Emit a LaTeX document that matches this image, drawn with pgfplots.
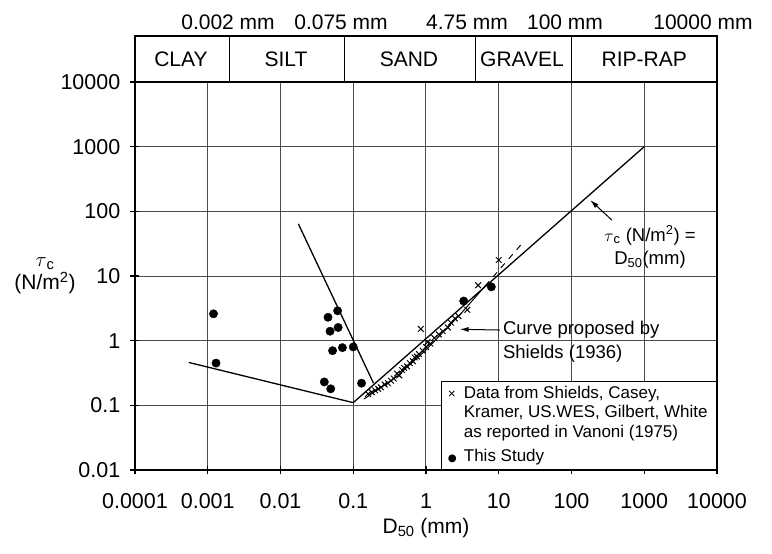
\documentclass[border=0pt]{standalone}
\usepackage{fontspec}
\setmainfont{Liberation Sans}
\newfontfamily\dejavu{DejaVu Sans}
\usepackage{pgfplots}
\pgfplotsset{compat=1.18}
\usetikzlibrary{arrows.meta}
\newcommand\ticksize{\fontsize{21.5bp}{25bp}\selectfont}
\newcommand\labsize{\fontsize{21bp}{23bp}\selectfont}
\newcommand\annsize{\fontsize{18.5bp}{23.5bp}\selectfont}
\newcommand\legsize{\fontsize{17bp}{19.5bp}\selectfont}
\begin{document}
\begin{tikzpicture}
\useasboundingbox (-135bp,-84bp) rectangle (637bp,470bp);
\begin{axis}[
  at={(0,0)}, anchor=south west,
  scale only axis, width=582bp, height=388bp,
  xmode=log, ymode=log,
  xmin=1e-4, xmax=1e4, ymin=0.01, ymax=1e4,
  xtick={1e-4,1e-3,1e-2,1e-1,1,10,100,1000,10000},
  xticklabels={0.0001,0.001,0.01,0.1,1,10,100,1000,10000},
  ytick={0.01,0.1,1,10,100,1000,10000},
  yticklabels={0.01,0.1,1,10,100,1000,10000},
  xminorticks=false, yminorticks=false,
  tick pos=left, tick align=center, major tick length=9bp,
  tick style={black, line width=1.2bp},
  grid=major, major grid style={black!70, line width=1bp},
  axis line style={black, line width=1.5bp},
  /pgf/number format/assume math mode=true,
  ticklabel style={font=\ticksize},
  xticklabel style={anchor=north, inner sep=0pt, yshift=-19bp},
  yticklabel style={anchor=east, inner sep=0pt, xshift=-10bp},
  xlabel={D\textsubscript{50} (mm)},
  every axis x label/.style={at={(rel axis cs:0.5,0)}, anchor=center, yshift=-58bp, font=\labsize},
  ylabel={$\tau$\textsubscript{c}\\(N/m\textsuperscript{2})},
  every axis y label/.style={at={(rel axis cs:0,0.5)}, anchor=center, xshift=-90bp, align=center, font=\labsize},
  clip=false,
]
% boundary lines
\addplot[black, line width=1.3bp] coordinates {(0.00055,0.46) (0.1,0.11)};
\addplot[black, line width=1.3bp] coordinates {(0.0176,64) (0.19,0.22)};
\addplot[black, line width=1.3bp] coordinates {(0.1,0.11) (1000,1000)};
% Shields curve
\addplot[black, line width=1bp] coordinates {(0.14,0.125) (0.4,0.28) (1,0.72) (3,2.6) (6.5,7)};
\addplot[black, line width=1bp, dash pattern=on 6bp off 6bp] coordinates {(6.5,7) (20,30)};

% data from Shields, Casey, Kramer, US.WES, Gilbert, White
\addplot[only marks, mark=x, mark size=4bp, black, line width=1bp] coordinates {
(0.16,0.15) (0.18,0.16) (0.2,0.17) (0.22,0.18) (0.24,0.19) (0.27,0.21)
(0.3,0.22) (0.33,0.24) (0.36,0.26) (0.4,0.31) (0.43,0.29) (0.47,0.35)
(0.5,0.38) (0.55,0.4) (0.6,0.45) (0.66,0.48) (0.7,0.55) (0.75,0.57)
(0.8,0.62) (0.9,0.7) (1.0,0.8) (1.05,0.95) (1.15,0.9) (1.3,1.1)
(1.5,1.25) (1.7,1.4) (2.0,1.6) (2.2,1.9) (2.5,2.2) (2.8,2.4)
(3.7,3.0) (5.2,7.2) (10,17.7) (0.85,1.52)};

% this study
\addplot[only marks, mark=*, mark size=4.2bp, black] coordinates {
(0.0012,2.6) (0.0013,0.45) (0.061,2.9) (0.045,2.3) (0.062,1.6) (0.048,1.4)
(0.052,0.70) (0.071,0.78) (0.1,0.8) (0.040,0.23) (0.049,0.18) (0.13,0.22)
(3.3,4.1) (7.9,6.8)};

% annotations
\node[font=\annsize, align=left, anchor=west, inner sep=0pt] at (axis cs:11.4,0.97) {Curve proposed by\\Shields (1936)};
\draw[-{Latex[length=9bp,width=5bp]}, line width=1bp] (axis cs:10.4,1.46) -- (axis cs:2.9,1.5);
\node[font=\annsize, align=center, inner sep=0pt] at (axis cs:1200,28) {$\tau$\textsubscript{c} (N/m\textsuperscript{2}) =\\D\textsubscript{50}(mm)};
\draw[-{Latex[length=9bp,width=5bp]}, line width=1bp] (axis cs:360,73) -- (axis cs:180,150);

% size classes
\draw[line width=1.5bp] (axis cs:1e-4,1e4) rectangle ([yshift=46bp]axis cs:1e4,1e4);
\draw[line width=1.3bp] (axis cs:0.002,1e4) -- ([yshift=46bp]axis cs:0.002,1e4);
\draw[line width=1.3bp] (axis cs:0.075,1e4) -- ([yshift=46bp]axis cs:0.075,1e4);
\draw[line width=1.3bp] (axis cs:4.75,1e4) -- ([yshift=46bp]axis cs:4.75,1e4);
\draw[line width=1.3bp] (axis cs:100,1e4) -- ([yshift=46bp]axis cs:100,1e4);
\node[font=\labsize] at ([yshift=23bp]axis cs:4.28e-4,1e4) {CLAY};
\node[font=\labsize] at ([yshift=23bp]axis cs:0.0119,1e4) {SILT};
\node[font=\labsize] at ([yshift=23bp]axis cs:0.583,1e4) {SAND};
\node[font=\labsize] at ([yshift=23bp]axis cs:20.9,1e4) {GRAVEL};
\node[font=\labsize] at ([yshift=23bp]axis cs:1000,1e4) {RIP-RAP};
\node[font=\labsize] at ([yshift=60bp]axis cs:0.0019,1e4) {0.002 mm};
\node[font=\labsize] at ([yshift=60bp]axis cs:0.068,1e4) {0.075 mm};
\node[font=\labsize] at ([yshift=60bp]axis cs:3.66,1e4) {4.75 mm};
\node[font=\labsize] at ([yshift=60bp]axis cs:81.5,1e4) {100 mm};
\node[font=\labsize] at ([yshift=60bp]axis cs:6420,1e4) {10000 mm};

% key
\node[draw, line width=1.3bp, fill=white, anchor=south east, minimum width=275bp, minimum height=88bp, inner sep=0pt] (leg) at (rel axis cs:1,0) {};
\node[anchor=north west, inner sep=0pt, align=left, font=\legsize] at ([xshift=7bp,yshift=-5bp]leg.north west)
  {\makebox[16bp][l]{\scalebox{0.8}{×}}Data from Shields, Casey,\\\hspace*{16bp}Kramer, US.WES, Gilbert, White\\\hspace*{16bp}as reported in Vanoni (1975)\\[4.5bp]\makebox[16bp][l]{\dejavu\scalebox{0.6}{●}}This Study};
\end{axis}
\end{tikzpicture}
\end{document}
